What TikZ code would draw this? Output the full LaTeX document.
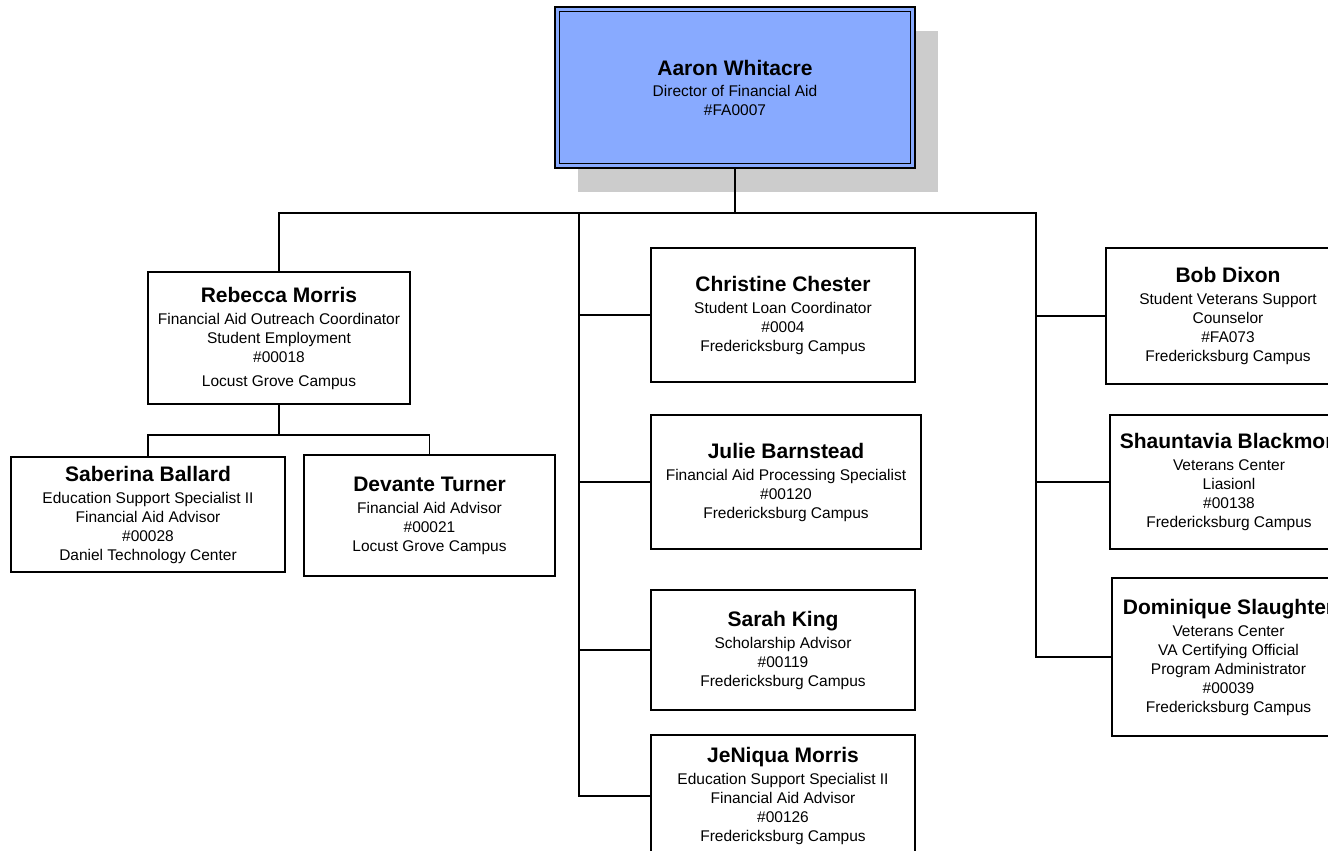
\documentclass[tikz,border=0pt]{standalone}
\usepackage{fontspec}
\setmainfont{Liberation Sans}
\usetikzlibrary{shadows}
\newcommand{\who}[1]{{\fontsize{21}{23}\selectfont\bfseries #1}}

\begin{document}
\begin{tikzpicture}[x=1pt,y=-1pt,
  person/.style={draw,line width=1.3pt,fill=white,align=center,inner sep=3pt,
    font=\fontsize{15.5}{19}\selectfont},
  boss/.style={person,fill=dirblue,line width=1.8pt,
    drop shadow={shadow xshift=23pt,shadow yshift=-24pt,fill=shadowgray,opacity=1}},
  link/.style={line width=1.2pt}]
% Define chart colours
\definecolor{dirblue}{RGB}{136,170,255}
\definecolor{shadowgray}{RGB}{204,204,204}

\useasboundingbox (0,0) rectangle (1328,851);
\clip (0,0) rectangle (1328,851);

% Director
\node[boss,minimum width=360pt,minimum height=161pt] (dir) at (735,87.5)
  {\who{Aaron Whitacre}\\[2pt] Director of Financial Aid\\ \#FA0007};
\draw[line width=0.9pt] ([shift={(5.5,5.5)}]dir.north west) rectangle ([shift={(-5.5,-5.5)}]dir.south east);

% Left branch
\node[person,minimum width=262pt,minimum height=132pt] (rebecca) at (279,338)
  {\who{Rebecca Morris}\\[3pt] Financial Aid Outreach Coordinator\\ Student Employment\\ \#00018\\[5pt] Locust Grove Campus};
\node[person,minimum width=274pt,minimum height=115pt] (saberina) at (148,514.5)
  {\who{Saberina Ballard}\\[3pt] Education Support Specialist II\\ Financial Aid Advisor\\ \#00028\\ Daniel Technology Center};
\node[person,minimum width=251pt,minimum height=121pt] (devante) at (429.5,515.5)
  {\who{Devante Turner}\\[3pt] Financial Aid Advisor\\ \#00021\\ Locust Grove Campus};

% Middle branch
\node[person,minimum width=264pt,minimum height=134pt] (christine) at (783,315)
  {\who{Christine Chester}\\[3pt] Student Loan Coordinator\\ \#0004\\ Fredericksburg Campus};
\node[person,minimum width=270pt,minimum height=134pt] (julie) at (786,482)
  {\who{Julie Barnstead}\\[3pt] Financial Aid Processing Specialist\\ \#00120\\ Fredericksburg Campus};
\node[person,minimum width=264pt,minimum height=120pt] (sarah) at (783,650)
  {\who{Sarah King}\\[3pt] Scholarship Advisor\\ \#00119\\ Fredericksburg Campus};
\node[person,minimum width=264pt,minimum height=122pt] (jeniqua) at (783,796)
  {\who{JeNiqua Morris}\\[3pt] Education Support Specialist II\\ Financial Aid Advisor\\ \#00126\\ Fredericksburg Campus};

% Right branch
\node[person,minimum width=244pt,minimum height=136pt] (bob) at (1228,316)
  {\who{Bob Dixon}\\[3pt] Student Veterans Support\\ Counselor\\ \#FA073\\ Fredericksburg Campus};
\node[person,minimum width=238pt,minimum height=134pt] (shauntavia) at (1229,482)
  {\who{Shauntavia Blackmon}\\[3pt] Veterans Center\\ Liasionl\\ \#00138\\ Fredericksburg Campus};
\node[person,minimum width=233pt,minimum height=158pt] (dominique) at (1228.5,657)
  {\who{Dominique Slaughter}\\[3pt] Veterans Center\\ VA Certifying Official\\ Program Administrator\\ \#00039\\ Fredericksburg Campus};

% Bus points
\coordinate (busL) at (279,213);
\coordinate (busM) at (579,213);
\coordinate (busR) at (1036,213);
\coordinate (forkL) at (279,435);

% Connectors
\draw[link] (dir.south) |- (busL) -- (rebecca.north);
\draw[link] (dir.south) |- (busR) |- (dominique.west);
\draw[link] (busM) |- (jeniqua.west);
\draw[link] (busM |- christine.west) -- (christine.west);
\draw[link] (busM |- julie.west) -- (julie.west);
\draw[link] (busM |- sarah.west) -- (sarah.west);
\draw[link] (busR |- bob.west) -- (bob.west);
\draw[link] (busR |- shauntavia.west) -- (shauntavia.west);
\draw[link] (rebecca.south) -- (forkL) -| (saberina.north);
\draw[link] (forkL) -| (devante.north);
\end{tikzpicture}
\end{document}
